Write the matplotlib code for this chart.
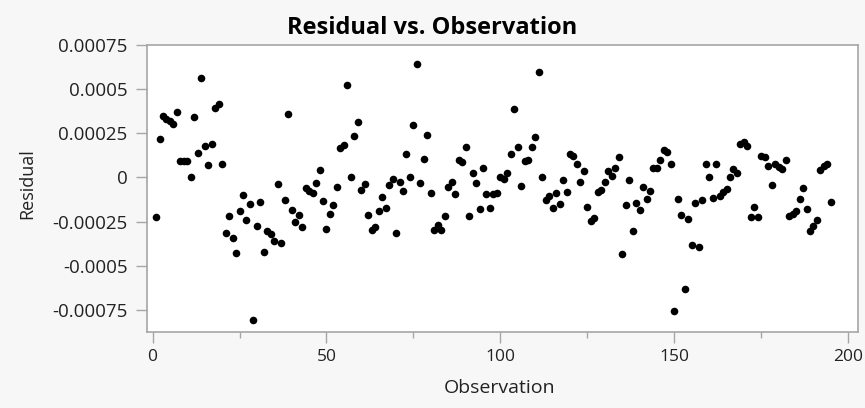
import matplotlib
matplotlib.use("Agg")
import matplotlib.pyplot as plt
from matplotlib.ticker import MultipleLocator

observation = list(range(1, 196))
residual_e4 = [
    -2.26, 2.17, 3.5, 3.3, 3.2, 3.0, 3.7, 0.95, 0.95, 0.95,
    0.0, 3.43, 1.41, 5.61, 1.79, 0.72, 1.92, 3.95, 4.14, 0.79,
    -3.16, -2.2, -3.42, -4.25, -1.92, -0.98, -2.4, -1.52, -8.05, -2.76,
    -1.41, -4.23, -3.05, -3.2, -3.61, -0.37, -3.7, -1.26, 3.61, -1.82,
    -2.54, -2.1, -2.78, -0.6, -0.75, -0.88, -0.32, 0.42, -1.35, -2.91,
    -2.07, -1.56, -0.56, 1.69, 1.85, 5.23, 0.0, 2.35, 3.12, -0.71,
    -0.37, -2.1, -2.97, -2.82, -1.92, -1.13, -1.75, -0.41, -0.09, -3.16,
    -0.28, -0.79, 1.35, 0.0, 2.97, 6.43, -0.32, 1.07, 2.39, -0.88,
    -2.95, -2.69, -2.95, -2.16, -0.56, -0.28, -0.94, 0.98, 0.85, 1.73,
    -2.2, 0.25, -0.32, -1.79, 0.51, -0.94, -1.75, -0.94, -0.88, 0.04,
    -0.09, 0.25, 1.32, 3.9, 1.73, -0.51, 0.94, 1.0, 1.73, 2.31,
    5.98, 0.0, -1.28, -1.03, -1.75, -0.88, -1.5, -0.15, -0.85, 1.32,
    1.22, 0.79, -0.28, 0.38, -1.69, -2.44, -2.29, -0.85, -0.69, -0.24,
    0.34, 0.09, 0.51, 1.17, -4.36, -1.54, -0.15, -3.01, -1.43, -1.84,
    -0.56, -1.22, -0.79, 0.56, 0.56, 1.0, 1.55, 1.45, 0.79, -7.56,
    -1.22, -2.12, -6.3, -2.35, -3.8, -1.43, -3.91, -1.28, 0.75, 0.0,
    -1.16, 0.75, -1.07, -0.81, -0.66, 0.0, 0.47, 0.28, 1.88, 2.03,
    1.79, -2.22, -1.65, -2.22, 1.22, 1.16, 0.66, -0.41, 0.75, 0.62,
    0.47, 1.0, -2.16, -2.07, -1.88, -1.22, -0.62, -1.79, -3.05, -2.73,
    -2.41, 0.43, 0.66, 0.79, -1.37,
]
residual = [v * 1e-4 for v in residual_e4]

y_ticks = [-0.00075, -0.0005, -0.00025, 0.0, 0.00025, 0.0005, 0.00075]
y_tick_labels = ["-0.00075", "-0.0005", "-0.00025", "0", "0.00025", "0.0005", "0.00075"]
x_ticks = [0, 50, 100, 150, 200]
x_tick_labels = ["0", "50", "100", "150", "200"]

plt.rcParams['font.family'] = ['Open Sans', 'DejaVu Sans']

W, H = 865, 408
fig = plt.figure(figsize=(W / 100, H / 100), dpi=100, facecolor="#F7F7F7")
L, R, T, B = 147, 858, 45, 332
ax = fig.add_axes([L / W, 1 - B / H, (R - L) / W, (B - T) / H])
ax.set_facecolor("white")

ax.scatter(observation, residual, s=30, color="black", linewidths=0, zorder=3)

ax.set_xlim(-1.6, 202.8)
ax.set_ylim(-0.000875, 0.00075)

ax.set_xticks(x_ticks)
ax.set_xticklabels(x_tick_labels)
ax.xaxis.set_minor_locator(MultipleLocator(25))
ax.set_yticks(y_ticks)
ax.set_yticklabels(y_tick_labels)

edge = "#A6A6A6"
for sp in ax.spines.values():
    sp.set_color(edge)
    sp.set_linewidth(1.2)

ax.tick_params(axis="both", which="major", direction="out", color=edge,
               labelcolor="#222222", width=1.0)
ax.tick_params(axis="x", which="major", length=8, pad=4, labelsize=12.5)
ax.tick_params(axis="x", which="minor", length=4, color=edge, width=1.0)
ax.tick_params(axis="y", which="major", length=8, pad=6, labelsize=13.5)

fig.text(0.5, 1 - 28 / H, "Residual vs. Observation", ha="center", va="center",
         fontsize=17, fontweight="bold", color="black")
fig.text(27 / W, 1 - 184 / H, "Residual", ha="center", va="center",
         rotation=90, fontsize=13, color="#222222")
fig.text(500 / W, 1 - 388 / H, "Observation", ha="center", va="center",
         fontsize=14, color="#222222")

fig.savefig("out.png", dpi=100, facecolor=fig.get_facecolor())
